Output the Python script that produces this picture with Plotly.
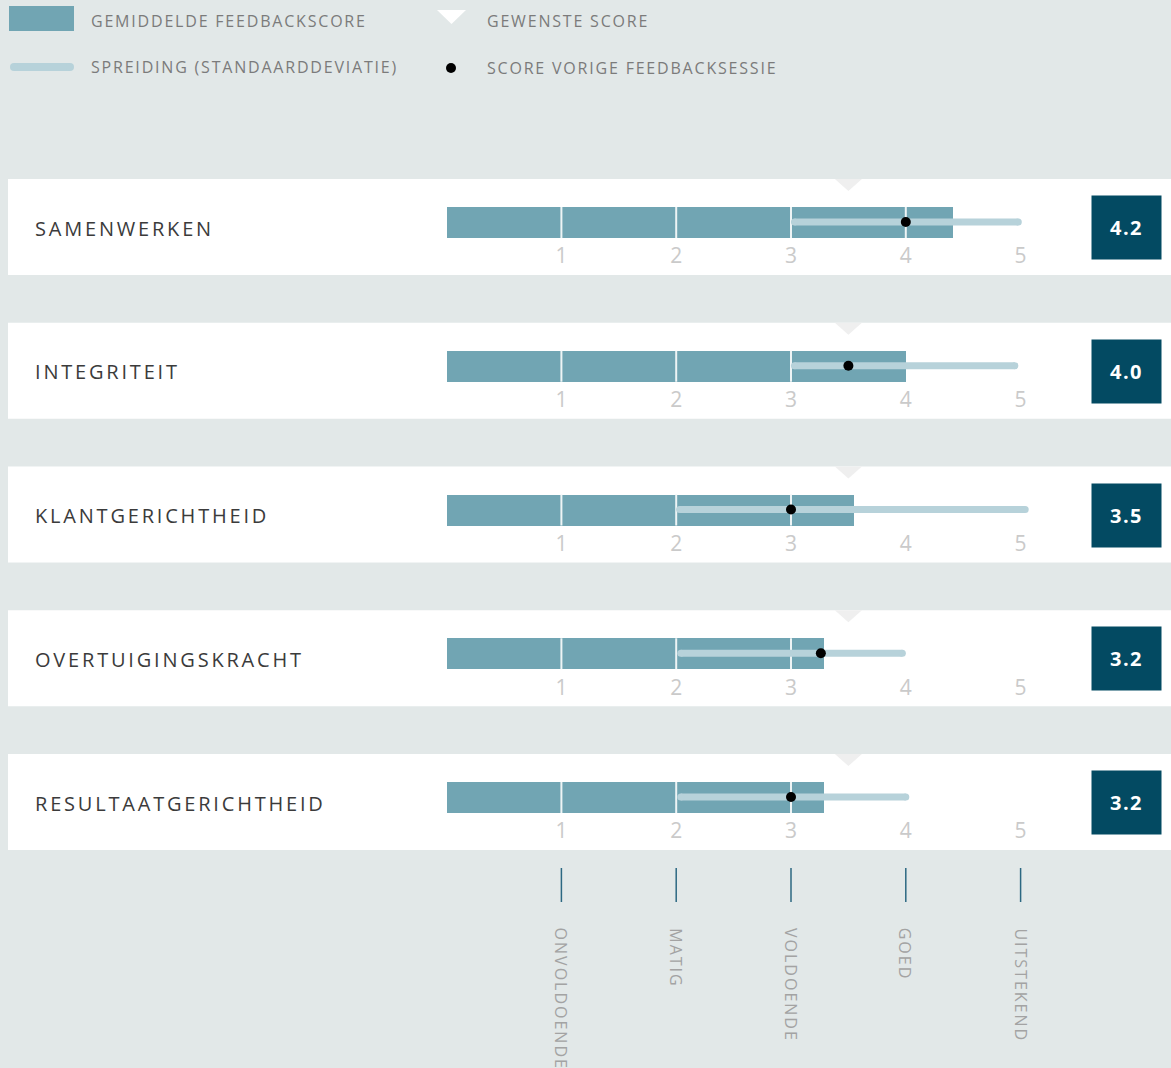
import plotly.graph_objects as go

W, H = 1171, 1068

# ---------------- data ----------------
categories = ["SAMENWERKEN", "INTEGRITEIT", "KLANTGERICHTHEID",
              "OVERTUIGINGSKRACHT", "RESULTAATGERICHTHEID"]
avg_bar = [4.41, 4.0, 3.55, 3.29, 3.29]          # bar length (gemiddelde feedbackscore)
score_labels = ["4.2", "4.0", "3.5", "3.2", "3.2"]
std_low = [3.03, 3.03, 2.03, 2.04, 2.04]         # spreiding
std_high = [4.98, 4.95, 5.04, 3.97, 4.0]
previous = [4.0, 3.5, 3.0, 3.26, 3.0]            # score vorige feedbacksessie
desired = [3.5, 3.5, 3.5, 3.5, 3.5]              # gewenste score
scale_ticks = [1, 2, 3, 4, 5]
scale_labels = ["ONVOLDOENDE", "MATIG", "VOLDOENDE", "GOED", "UITSTEKEND"]
legend_labels = ["GEMIDDELDE FEEDBACKSCORE", "SPREIDING (STANDAARDDEVIATIE)",
                 "GEWENSTE SCORE", "SCORE VORIGE FEEDBACKSESSIE"]

# ---------------- style / geometry ----------------
BG = "#e2e8e8"
BAR = "#71a5b3"
STD = "#b7d2da"
BOX = "#034a62"
TICKTXT = "#cacaca"
CATTXT = "#3b3b3b"
LEGTXT = "#7b7b7b"
BOTTXT = "#a3a3a3"
BOTLINE = "#2c6882"
TRI = "#efefef"
FONT = "Open Sans"

X0_PX, X_UNIT = 446.6, 114.8
ROW0_PX, ROW_PX = 227.0, 143.75
u = 1.0 / ROW_PX
xu = 1.0 / X_UNIT
n = len(categories)
rows = list(range(n))
last = rows[-1]

def px(x):
    return x / W

def py(y):
    return 1 - y / H

def ls(text, sp):
    return f'<span style="letter-spacing:{sp}px">{text}</span>'

fig = go.Figure()

# bars
fig.add_trace(go.Bar(
    x=avg_bar, y=[r - 4.5 * u for r in rows], orientation="h",
    width=31 * u, base=0, marker=dict(color=BAR, line=dict(width=0)),
    hoverinfo="skip"))

# white grid lines inside bars
gx, gy = [], []
for r, v in zip(rows, avg_bar):
    for t in scale_ticks:
        if t < v - 0.02:
            gx += [t, t, None]
            gy += [r - 20 * u, r + 11 * u, None]
fig.add_trace(go.Scatter(x=gx, y=gy, mode="lines",
                         line=dict(color="#eef4f5", width=2), hoverinfo="skip"))

# desired score notches
tx, ty = [], []
for r, d in zip(rows, desired):
    tx += [d - 13.5 * xu, d + 13.5 * xu, d, d - 13.5 * xu, None]
    ty += [r - 48 * u, r - 48 * u, r - 36 * u, r - 48 * u, None]
fig.add_trace(go.Scatter(x=tx, y=ty, mode="lines", fill="toself",
                         fillcolor=TRI, line=dict(width=0, color=TRI),
                         hoverinfo="skip"))

# std dev lines
sx, sy = [], []
for r, lo, hi in zip(rows, std_low, std_high):
    sx += [lo, hi, None]
    sy += [r - 5 * u, r - 5 * u, None]
fig.add_trace(go.Scatter(x=sx, y=sy, mode="lines+markers",
                         line=dict(color=STD, width=7),
                         marker=dict(color=STD, size=7, line=dict(width=0)),
                         hoverinfo="skip"))

# previous score dots
fig.add_trace(go.Scatter(x=previous, y=[r - 5 * u for r in rows], mode="markers",
                         marker=dict(color="black", size=10, line=dict(width=0)),
                         hoverinfo="skip"))

# tick numbers under each bar
nx, ny, nt = [], [], []
for r in rows:
    for t in scale_ticks:
        nx.append(t)
        ny.append(r + 31 * u)
        nt.append(str(t))
fig.add_trace(go.Scatter(x=nx, y=ny, mode="text", text=nt,
                         textfont=dict(family=FONT, size=21, color=TICKTXT),
                         hoverinfo="skip"))

# bottom tick marks
bx, by = [], []
for t in scale_ticks:
    bx += [t, t, None]
    by += [last + 66 * u, last + 100 * u, None]
fig.add_trace(go.Scatter(x=bx, y=by, mode="lines",
                         line=dict(color=BOTLINE, width=1.5), hoverinfo="skip"))

shapes = []
annotations = []

# panels
for r in rows:
    shapes.append(dict(type="rect", xref="paper", yref="y",
                       x0=px(8), x1=1, y0=r - 48 * u, y1=r + 48 * u,
                       fillcolor="white", line=dict(width=0), layer="below"))

# category labels and score boxes
for r, c, s in zip(rows, categories, score_labels):
    annotations.append(dict(xref="paper", yref="y", x=px(33), y=r + 1 * u,
                            xanchor="left", yanchor="middle", showarrow=False,
                            text=ls(c, 2.8),
                            font=dict(family=FONT, size=20, color=CATTXT)))
    annotations.append(dict(xref="paper", yref="y", x=px(1126.5), y=r + 0.5 * u,
                            xanchor="center", yanchor="middle", showarrow=False,
                            text=ls(s, 1.5), width=69, height=63, borderpad=0,
                            bgcolor=BOX,
                            font=dict(family=FONT, size=20, color="white",
                                      weight="bold")))

# bottom scale labels
for t, lab in zip(scale_ticks, scale_labels):
    annotations.append(dict(xref="x", yref="y", x=t, y=last + 124 * u,
                            xanchor="center", yanchor="top", showarrow=False,
                            textangle=90, text=ls(lab, 2.0),
                            font=dict(family=FONT, size=16, color=BOTTXT)))

# legend
shapes.append(dict(type="rect", xref="paper", yref="paper",
                   x0=px(9), x1=px(74), y0=py(31), y1=py(6),
                   fillcolor=BAR, line=dict(width=0)))
shapes.append(dict(type="rect", xref="paper", yref="paper",
                   x0=px(14), x1=px(70), y0=py(71), y1=py(63),
                   fillcolor=STD, line=dict(width=0)))
for cx in (14, 70):
    shapes.append(dict(type="circle", xref="paper", yref="paper",
                       x0=px(cx - 4), x1=px(cx + 4), y0=py(71), y1=py(63),
                       fillcolor=STD, line=dict(width=0)))
shapes.append(dict(type="path", xref="paper", yref="paper",
                   path=f"M{px(437)},{py(10)} L{px(466)},{py(10)} L{px(451.5)},{py(24)} Z",
                   fillcolor="white", line=dict(width=0)))
shapes.append(dict(type="circle", xref="paper", yref="paper",
                   x0=px(446), x1=px(456), y0=py(73), y1=py(63),
                   fillcolor="black", line=dict(width=0)))
leg_pos = [(89, 21), (89, 67), (485, 21), (485, 68)]
for (lx, ly), lab in zip(leg_pos, legend_labels):
    annotations.append(dict(xref="paper", yref="paper", x=px(lx), y=py(ly),
                            xanchor="left", yanchor="middle", showarrow=False,
                            text=ls(lab, 1.8),
                            font=dict(family=FONT, size=16, color=LEGTXT)))

fig.update_layout(
    width=W, height=H, margin=dict(l=0, r=0, t=0, b=0),
    paper_bgcolor=BG, plot_bgcolor=BG, showlegend=False,
    xaxis=dict(range=[-X0_PX / X_UNIT, (W - X0_PX) / X_UNIT], visible=False,
               fixedrange=True),
    yaxis=dict(range=[(H - ROW0_PX) / ROW_PX, -ROW0_PX / ROW_PX], visible=False,
               fixedrange=True),
    shapes=shapes, annotations=annotations, bargap=0,
)

fig.write_html("out.html", config={"displayModeBar": False},
               post_script="document.body.style.margin='0';")
